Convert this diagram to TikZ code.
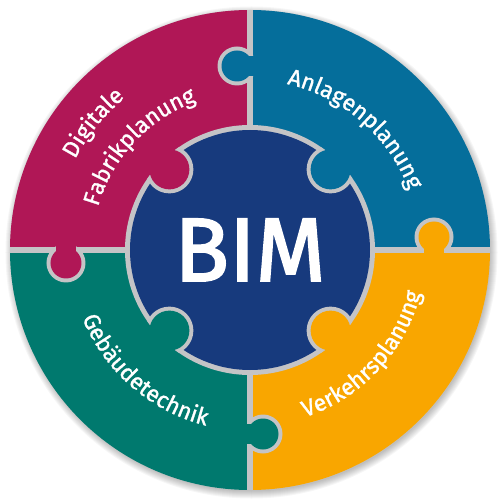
\documentclass[tikz,border=0pt]{standalone}
\usepackage{fontspec}
\setmainfont{Fira Sans}
\newfontfamily\semi[FakeBold=1.2]{Fira Sans}
\newfontfamily\bimfont[FakeBold=2.2]{Fira Sans}
\usetikzlibrary{decorations.text}
\definecolor{cmag}{RGB}{176,23,86}
\definecolor{cblue}{RGB}{5,110,155}
\definecolor{corange}{RGB}{249,166,0}
\definecolor{cteal}{RGB}{0,121,110}
\definecolor{cdark}{RGB}{23,58,125}
\definecolor{silver}{RGB}{196,196,198}
\newcommand\tf{\semi\fontsize{23}{23}\selectfont}
\tikzset{
  arctext/.style={decorate, decoration={text along path, text align=center, text color=white, text={|\tf|#1}}}
}
\begin{document}
\begin{tikzpicture}[x=1pt,y=1pt]
\useasboundingbox (-250,-250) rectangle (250,250);
% soft shadow
\foreach \k in {1,...,8} \fill[black,opacity=0.035] (1.5,-2.5) circle (238+\k);
% silver base disk
\fill[silver] (0,0) circle (240);
% quadrants
\begin{scope}
  \clip (0,0) circle (240);
  \fill[cmag] (-3,3) rectangle (-250,250);
  \fill[cblue] (3,3) rectangle (250,250);
  \fill[corange] (3,-3) rectangle (250,-250);
  \fill[cteal] (-3,-3) rectangle (-250,-250);
\end{scope}
% outer knobs
\foreach \rot/\col in {0/cblue,-90/corange,-180/cteal,-270/cmag}{
  \begin{scope}[rotate=\rot]
    \begin{scope}
      \clip (-240,150) rectangle (3,220);
      \fill[silver] (-13,184) circle (19.5);
    \end{scope}
    \fill[\col] (-13,184) circle (15.5);
    \fill[\col] (-13,174) rectangle (5,194);
  \end{scope}
}
% center
\fill[silver] (0,0) circle (125);
\fill[cdark] (0,0) circle (120);
\begin{scope}
  \clip (0,0) circle (125);
  \foreach \a in {45,135,225,315} \fill[silver] (\a:114) circle (24);
\end{scope}
\foreach \a/\col in {45/cblue,135/cmag,225/cteal,315/corange}
  \fill[\col] (\a:114) circle (20);
\node[text=white, font=\bimfont\fontsize{90}{90}\selectfont, inner sep=0pt] (bim) at (0,0) {BIM};
% texts
\path[arctext=Anlagenplanung] (89:170) arc[start angle=89, end angle=9, radius=170];
\path[arctext=Fabrikplanung] (177:158) arc[start angle=177, end angle=97, radius=158];
\path[arctext=Digitale] (181:197) arc[start angle=181, end angle=101, radius=197];
\path[arctext=Verkehrsplanung] (-83:176) arc[start angle=-83, end angle=-3, radius=176];
\path[arctext=Gebäudetechnik] (189:181) arc[start angle=189, end angle=269, radius=181];
\end{tikzpicture}
\end{document}
